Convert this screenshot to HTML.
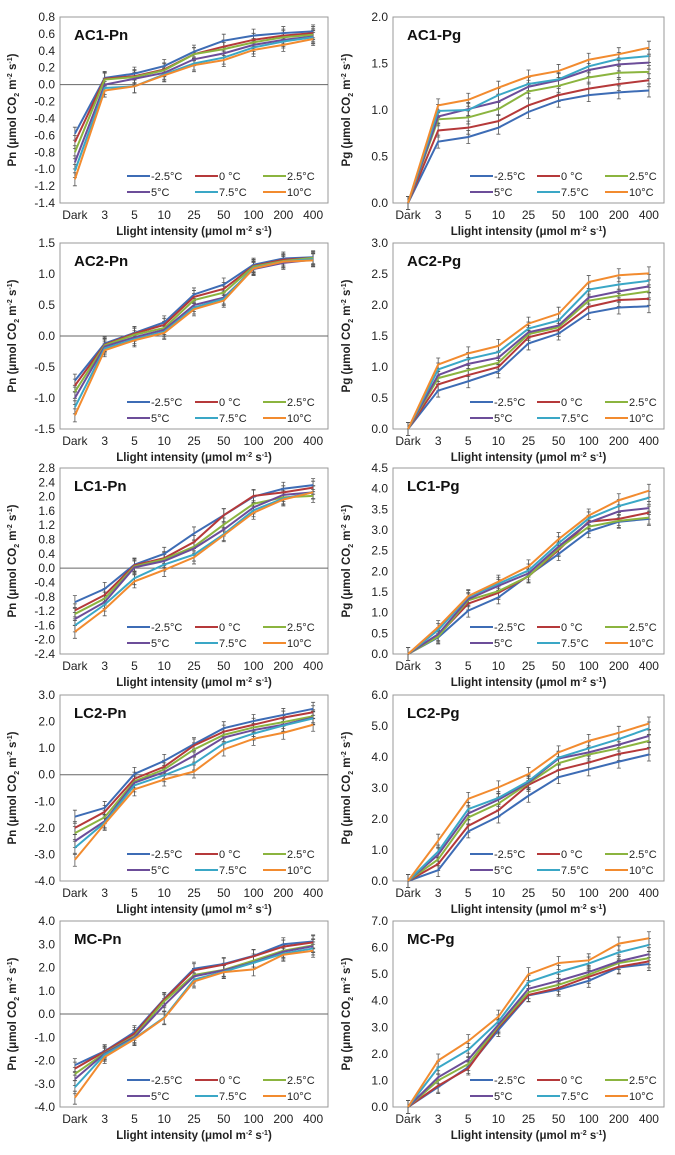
<!DOCTYPE html>
<html><head><meta charset="utf-8"><style>
body{margin:0;background:#fff;}
svg{display:block;font-family:"Liberation Sans",Arial,sans-serif;}
</style></head><body>
<svg id="fig" width="675" height="1155" viewBox="0 0 675 1155"></svg>
<script>
const categories=["Dark","3","5","10","25","50","100","200","400"];
const seriesNames=["-2.5°C","0 °C","2.5°C","5°C","7.5°C","10°C"];
const seriesColors=["#3d6cb5","#b5393a","#8bb43f","#6c4d99","#3aa7c6","#f28b2f"];
const ac1Pn=[[-0.58,0.08,0.13,0.22,0.39,0.52,0.58,0.61,0.63],[-0.68,0.07,0.10,0.18,0.36,0.45,0.53,0.58,0.61],[-0.80,0.06,0.09,0.17,0.36,0.42,0.50,0.56,0.59],[-0.92,0.00,0.07,0.14,0.30,0.37,0.47,0.53,0.57],[-1.02,-0.04,-0.02,0.12,0.25,0.32,0.44,0.51,0.56],[-1.12,-0.07,-0.02,0.11,0.23,0.29,0.41,0.47,0.54]];
const ac1Pg=[[0,0.66,0.71,0.81,0.98,1.10,1.16,1.19,1.21],[0,0.78,0.81,0.88,1.05,1.16,1.23,1.28,1.32],[0,0.90,0.92,1.01,1.20,1.26,1.35,1.40,1.41],[0,0.93,1.01,1.09,1.25,1.32,1.43,1.49,1.51],[0,0.99,1.00,1.16,1.28,1.33,1.47,1.55,1.58],[0,1.05,1.11,1.24,1.36,1.42,1.54,1.60,1.67]];
const ac2Pn=[[-0.72,-0.12,0.05,0.22,0.67,0.83,1.15,1.25,1.27],[-0.80,-0.14,0.04,0.18,0.63,0.76,1.13,1.23,1.26],[-0.90,-0.15,0.02,0.13,0.58,0.70,1.12,1.21,1.26],[-1.00,-0.17,-0.02,0.10,0.50,0.62,1.08,1.18,1.23],[-1.15,-0.20,-0.05,0.07,0.46,0.60,1.10,1.20,1.24],[-1.28,-0.23,-0.07,0.05,0.43,0.57,1.09,1.20,1.22]];
const ac2Pg=[[0,0.62,0.77,0.93,1.38,1.54,1.87,1.96,1.98],[0,0.72,0.87,1.00,1.48,1.60,1.97,2.08,2.10],[0,0.82,0.95,1.07,1.53,1.64,2.07,2.15,2.22],[0,0.87,1.05,1.15,1.56,1.67,2.12,2.22,2.30],[0,0.96,1.13,1.24,1.62,1.75,2.25,2.33,2.39],[0,1.04,1.22,1.34,1.70,1.86,2.37,2.48,2.51]];
const lc1Pn=[[-0.95,-0.58,0.10,0.40,0.97,1.48,2.00,2.22,2.32],[-1.18,-0.75,0.08,0.28,0.73,1.48,2.02,2.12,2.25],[-1.28,-0.85,0.05,0.25,0.60,1.22,1.80,1.98,2.02],[-1.42,-0.95,0.02,0.20,0.55,1.08,1.70,2.05,2.12],[-1.60,-1.02,-0.28,0.10,0.38,0.95,1.62,1.95,2.12],[-1.78,-1.15,-0.37,-0.05,0.30,0.92,1.55,1.92,2.12]];
const lc1Pg=[[0,0.40,1.05,1.37,1.90,2.42,2.97,3.20,3.27],[0,0.45,1.22,1.48,1.88,2.52,3.20,3.27,3.42],[0,0.42,1.30,1.52,1.88,2.55,3.08,3.22,3.30],[0,0.48,1.33,1.65,1.95,2.60,3.18,3.45,3.53],[0,0.58,1.38,1.70,2.02,2.68,3.28,3.58,3.78],[0,0.65,1.40,1.75,2.12,2.78,3.35,3.72,3.95]];
const lc2Pn=[[-1.58,-1.25,0.03,0.52,1.15,1.75,2.02,2.25,2.48],[-2.00,-1.40,-0.15,0.30,1.10,1.62,1.88,2.15,2.35],[-2.20,-1.60,-0.25,0.20,0.95,1.50,1.78,1.98,2.20],[-2.50,-1.75,-0.30,0.10,0.72,1.40,1.68,1.88,2.15],[-2.75,-1.80,-0.40,-0.02,0.42,1.18,1.55,1.85,2.12],[-3.20,-1.85,-0.55,-0.18,0.12,0.95,1.35,1.58,1.88]];
const lc2Pg=[[0,0.35,1.60,2.08,2.75,3.35,3.60,3.85,4.08],[0,0.55,1.78,2.28,3.10,3.58,3.82,4.10,4.28],[0,0.70,2.05,2.50,3.15,3.80,4.08,4.28,4.52],[0,0.85,2.18,2.62,3.18,3.95,4.15,4.40,4.68],[0,0.95,2.32,2.68,3.22,3.98,4.28,4.58,4.92],[0,1.30,2.65,3.02,3.45,4.15,4.52,4.78,5.08]];
const mcPn=[[-2.20,-1.60,-0.78,0.65,1.95,2.15,2.50,3.00,3.12],[-2.35,-1.62,-0.85,0.62,1.88,2.12,2.48,2.90,3.08],[-2.58,-1.68,-0.95,0.55,1.68,1.90,2.30,2.72,2.95],[-2.80,-1.70,-1.00,0.38,1.62,1.88,2.22,2.68,2.92],[-3.15,-1.75,-1.05,-0.15,1.48,1.82,2.20,2.60,2.82],[-3.60,-1.85,-1.08,-0.18,1.40,1.80,1.92,2.55,2.72]];
const mcPg=[[0,0.75,1.50,2.90,4.20,4.42,4.75,5.25,5.38],[0,0.80,1.45,3.00,4.22,4.48,4.90,5.28,5.48],[0,1.00,1.62,3.05,4.32,4.60,4.98,5.42,5.60],[0,1.12,1.78,3.10,4.45,4.75,5.08,5.48,5.75],[0,1.48,2.15,3.22,4.70,5.08,5.40,5.82,6.10],[0,1.75,2.48,3.40,5.00,5.42,5.52,6.15,6.35]];
const panelTitles=["AC1-Pn","AC1-Pg","AC2-Pn","AC2-Pg","LC1-Pn","LC1-Pg","LC2-Pn","LC2-Pg","MC-Pn","MC-Pg"];
const yMins=[-1.4,0,-1.5,0,-2.4,0,-4,0,-4,0];
const yMaxs=[0.8,2,1.5,3,2.8,4.5,3,6,4,7];
const ySteps=[0.2,0.5,0.5,0.5,0.4,0.5,1,1,1,1];
const panelData=[ac1Pn,ac1Pg,ac2Pn,ac2Pg,lc1Pn,lc1Pg,lc2Pn,lc2Pg,mcPn,mcPg];

const NS="http://www.w3.org/2000/svg";
const svg=document.getElementById('fig');
function mk(tag,attrs,parent,text){const e=document.createElementNS(NS,tag);for(const k in attrs)e.setAttribute(k,attrs[k]);if(text!==undefined)e.textContent=text;(parent||svg).appendChild(e);return e;}
const rowTops=[17,243,468,695,921];
const colX=[[60,328],[393,664]];
const H=186;
panelData.forEach((data,p)=>{
  const row=Math.floor(p/2),col=p%2;
  const x0=colX[col][0],x1=colX[col][1],y0=rowTops[row],y1=y0+H;
  const ymin=yMins[p],ymax=yMaxs[p],step=ySteps[p];
  const isPn=p%2===0;
  const g=mk('g',{});
  
  
  const yS=v=>y1-(v-ymin)/(ymax-ymin)*H;
  const band=(x1-x0)/categories.length;
  const xS=i=>x0+band*(i+0.5);
  const frame=mk('rect',{x:x0,y:y0,width:x1-x0,height:H,fill:'none',stroke:'#999','stroke-width':1},g);
  
  
  const n=Math.round((ymax-ymin)/step);
  for(let k=0;k<=n;k++){
    const v=ymin+k*step;
    const t=mk('text',{x:x0-5,y:yS(v)+4,'text-anchor':'end','font-size':12,fill:'#222'},g,v.toFixed(1));
    
    
  }
  if(isPn){
    const z=mk('line',{x1:x0,x2:x1,y1:yS(0),y2:yS(0),stroke:'#666','stroke-width':1},g);
    
    
  }
  categories.forEach((c,i)=>{
    const t=mk('text',{x:xS(i),y:y1+16,'text-anchor':'middle','font-size':12,fill:'#222'},g,c);
    
    
  });
  const xt=mk('text',{x:(x0+x1)/2,y:y1+32,'text-anchor':'middle','font-size':11.5,'font-weight':'bold',fill:'#222'},g);
  
  
  xt.innerHTML='Llight intensity (μmol m<tspan font-size="7" dy="-4">-2</tspan><tspan dy="4"> s</tspan><tspan font-size="7" dy="-4">-1</tspan><tspan dy="4">)</tspan>';
  const cx=col===0?16:350,cy=(y0+y1)/2;
  const yt=mk('text',{x:cx,y:cy,'text-anchor':'middle','font-size':11.5,'font-weight':'bold',fill:'#222',transform:`rotate(-90 ${cx} ${cy})`},g);
  
  
  yt.innerHTML=(isPn?'Pn':'Pg')+' (μmol CO<tspan font-size="7" dy="3">2</tspan><tspan dy="-3"> m</tspan><tspan font-size="7" dy="-4">-2</tspan><tspan dy="4"> s</tspan><tspan font-size="7" dy="-4">-1</tspan><tspan dy="4">)</tspan>';
  const pt=mk('text',{x:x0+14,y:y0+23,'font-size':15,'font-weight':'bold',fill:'#111'},g,panelTitles[p]);
  
  
  const eb=(ymax-ymin)*0.035;
  data.forEach((vals,s)=>{
    vals.forEach((v,i)=>{
      const d=eb/(ymax-ymin)*H;
      const e=mk('path',{d:`M${xS(i)},${yS(v)-d}V${yS(v)+d}M${xS(i)-2},${yS(v)-d}h4M${xS(i)-2},${yS(v)+d}h4`,stroke:'#555','stroke-width':0.8,fill:'none'},g);
      
      
    });
  });
  data.forEach((vals,s)=>{
    const l=mk('polyline',{points:vals.map((v,i)=>xS(i)+','+yS(v)).join(' '),fill:'none',stroke:seriesColors[s],'stroke-width':2},g);
    
    
  });
  const lx=col===0?[127,195,263]:[470,537,605];
  seriesNames.forEach((nm,s)=>{
    const lxx=lx[s%3],ly=y1-(s<3?27:11);
    const lg=mk('g',{},g);
    
    
    mk('line',{x1:lxx,x2:lxx+23,y1:ly,y2:ly,stroke:seriesColors[s],'stroke-width':2},lg);
    mk('text',{x:lxx+24,y:ly+4,'font-size':11,fill:'#222'},lg,nm);
  });
});
</script>
</body></html>
